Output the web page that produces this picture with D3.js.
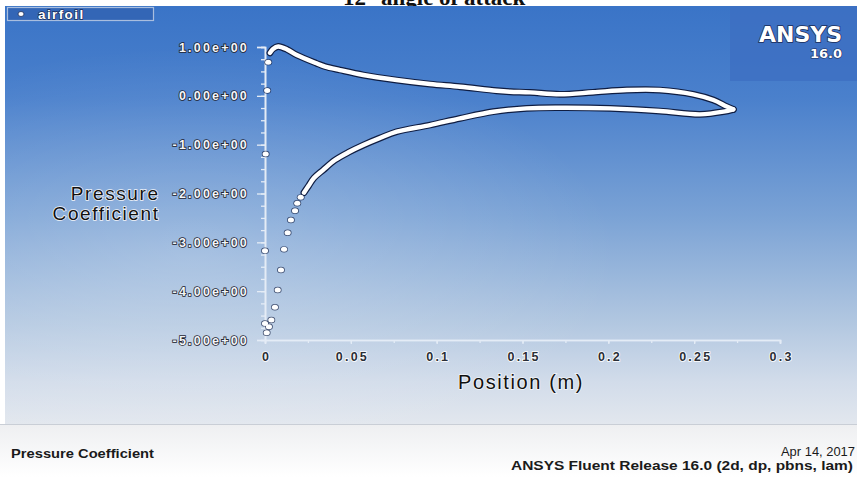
<!DOCTYPE html>
<html>
<head>
<meta charset="utf-8">
<script src="https://cdn.jsdelivr.net/npm/d3@7"></script>
<style>
  html, body { margin: 0; padding: 0; background: #ffffff; }
  svg { display: block; }
</style>
</head>
<body>
<svg id="chart" width="857" height="477"></svg>
<script>
// Pressure coefficient along the airfoil chord, 12° angle of attack.

// Pressure side: continuous run of wall nodes from the stagnation point to the trailing edge
const pressureSideX  = [0.0029, 0.0047, 0.0077, 0.0128, 0.0185, 0.0300, 0.0350, 0.0437, 0.0573, 0.0767, 0.0961, 0.1136, 0.1349, 0.1427, 0.1544, 0.1718, 0.1910, 0.2107, 0.2300, 0.2495, 0.2612, 0.2690, 0.2728];
const pressureSideCp = [0.88,   0.96,   1.01,   0.95,   0.835,  0.666,  0.60,   0.528,  0.426,  0.324,  0.242,  0.186,  0.104,  0.084,  0.070,  0.031,  0.072,  0.119,  0.119,  0.031,  -0.086, -0.220, -0.277];

// Suction side: continuous run of wall nodes aft of the suction peak
const suctionSideX  = [0.0227, 0.0253, 0.0285, 0.0338, 0.0408, 0.0489, 0.0573, 0.0670, 0.0767, 0.0961, 0.1136, 0.1330, 0.1524, 0.1718, 0.2010, 0.2300, 0.2534, 0.2670, 0.2728];
const suctionSideCp = [-1.984, -1.847, -1.683, -1.520, -1.315, -1.151, -1.008, -0.864, -0.735, -0.598, -0.461, -0.325, -0.256, -0.243, -0.256, -0.311, -0.379, -0.325, -0.277];

// Sparse nodes around the leading-edge nose
const noseX  = [0.0019, 0.0013, 0.0004, 0.0000, 0.0000, 0.0010, 0.0023, 0.0037, 0.0058, 0.0074, 0.0093, 0.0111, 0.0132, 0.0151, 0.0175, 0.0188, 0.0208];
const noseCp = [0.69,   0.11,   -1.19,  -3.17,  -4.66,  -4.851, -4.728, -4.590, -4.330, -3.976, -3.567, -3.144, -2.804, -2.544, -2.353, -2.201, -2.079];

// Axis ticks
const xTicks = [0, 0.05, 0.1, 0.15, 0.2, 0.25, 0.3];
const xTickLabels = ["0", "0.05", "0.1", "0.15", "0.2", "0.25", "0.3"];
const yTicks = [1, 0, -1, -2, -3, -4, -5];
const yTickLabels = ["1.00e+00", "0.00e+00", "-1.00e+00", "-2.00e+00", "-3.00e+00", "-4.00e+00", "-5.00e+00"];
const xMinorTicks = d3.range(0, 0.3001, 0.025);
const yMinorTicks = d3.range(-5, 1.001, 0.25);

const seriesName = "airfoil";
const titleText = "12° angle of attack";
const yTitle = ["Pressure", "Coefficient"];
const xTitle = "Position (m)";
const footLeft = "Pressure Coefficient";
const footDate = "Apr 14, 2017";
const footRelease = "ANSYS Fluent Release 16.0 (2d, dp, pbns, lam)";

const svg = d3.select("#chart");
const W = 857, H = 477;

// ---------- gradients ----------
const defs = svg.append("defs");
const bg = defs.append("linearGradient").attr("id", "bg").attr("x1", 0).attr("y1", 0).attr("x2", 0).attr("y2", 1);
[[0, "#3a74c7"], [0.22, "#4a80cc"], [0.5, "#7aa2d5"], [0.75, "#b0c6e0"], [0.9, "#d2dcea"], [1, "#e2e7ee"]]
  .forEach(([o, c]) => bg.append("stop").attr("offset", o).attr("stop-color", c));
const glow = defs.append("radialGradient").attr("id", "glow").attr("cx", 0.22).attr("cy", 0.6).attr("r", 0.5);
glow.append("stop").attr("offset", 0).attr("stop-color", "#ffffff").attr("stop-opacity", 0.22);
glow.append("stop").attr("offset", 1).attr("stop-color", "#ffffff").attr("stop-opacity", 0);
const foot = defs.append("linearGradient").attr("id", "foot").attr("x1", 0).attr("y1", 0).attr("x2", 0).attr("y2", 1);
foot.append("stop").attr("offset", 0).attr("stop-color", "#eeeff1");
foot.append("stop").attr("offset", 1).attr("stop-color", "#ffffff");

// ---------- title (its lower edge peeks above the panel) ----------
svg.append("text")
  .attr("x", 343).attr("y", 5)
  .attr("font-family", "Liberation Serif, Times New Roman, serif")
  .attr("font-weight", "bold").attr("font-size", 23)
  .attr("fill", "#111")
  .text(titleText);

// ---------- panel ----------
const panelTop = 6, panelBottom = 424, panelLeft = 5;
svg.append("rect").attr("x", panelLeft).attr("y", panelTop).attr("width", W - panelLeft).attr("height", panelBottom - panelTop).attr("fill", "url(#bg)");
svg.append("rect").attr("x", panelLeft).attr("y", panelTop).attr("width", W - panelLeft).attr("height", panelBottom - panelTop).attr("fill", "url(#glow)");
svg.append("rect").attr("x", 0).attr("y", panelBottom).attr("width", W).attr("height", H - panelBottom).attr("fill", "url(#foot)");
svg.append("line").attr("x1", 0).attr("x2", W).attr("y1", panelBottom + 0.5).attr("y2", panelBottom + 0.5).attr("stroke", "#c9ced6").attr("stroke-width", 1);

// ANSYS badge
svg.append("rect").attr("x", 730).attr("y", panelTop).attr("width", W - 730).attr("height", 81 - panelTop).attr("fill", "#3d6fc2").attr("opacity", 0.8);
svg.append("text").attr("x", 842).attr("y", 42).attr("text-anchor", "end")
  .attr("font-family", "DejaVu Sans, sans-serif").attr("font-weight", "bold").attr("font-size", 22)
  .attr("fill", "#ffffff").attr("stroke", "#1a2c58").attr("stroke-width", 1.6).attr("paint-order", "stroke")
  .text("ANSYS");
svg.append("text").attr("x", 842).attr("y", 58).attr("text-anchor", "end")
  .attr("font-family", "DejaVu Sans, sans-serif").attr("font-weight", "bold").attr("font-size", 13)
  .attr("fill", "#ffffff").attr("stroke", "#1a2c58").attr("stroke-width", 1.2).attr("paint-order", "stroke")
  .text("16.0");

// legend
const lg = svg.append("g");
lg.append("rect").attr("x", 7.5).attr("y", 7.5).attr("width", 146).attr("height", 13)
  .attr("fill", "#3366b6").attr("stroke", "#a9bedf").attr("stroke-width", 1.2);
lg.append("ellipse").attr("cx", 21).attr("cy", 14).attr("rx", 3).attr("ry", 2.5)
  .attr("fill", "#ffffff").attr("stroke", "#1a2c58").attr("stroke-width", 0.8);
lg.append("text").attr("x", 38).attr("y", 18.5)
  .attr("font-family", "Liberation Sans, Arial, sans-serif").attr("font-weight", "bold")
  .attr("font-size", 13.5).attr("letter-spacing", 1.4)
  .attr("fill", "#ffffff").attr("stroke", "#1a2c58").attr("stroke-width", 1.4).attr("paint-order", "stroke")
  .text(seriesName);

// ---------- scales ----------
const x = d3.scaleLinear().domain([0, 0.3]).range([265, 780]);
const y = d3.scaleLinear().domain([-5, 1]).range([340, 47]);

const axisColor = "#e4ecf6";
const tickFont = 12.5, tickSpacing = 2.2;

// y axis: minor ticks then major ticks with labels
const yMinor = svg.append("g").attr("transform", `translate(${x(0)},0)`)
  .call(d3.axisLeft(y).tickValues(yMinorTicks).tickSize(4).tickFormat(""));
const yAxis = svg.append("g").attr("transform", `translate(${x(0)},0)`)
  .call(d3.axisLeft(y).tickValues(yTicks).tickSize(8).tickPadding(8)
    .tickFormat((d, i) => yTickLabels[i]));
[yMinor, yAxis].forEach(g => {
  g.selectAll("line").attr("stroke", axisColor).attr("stroke-width", 1.3);
  g.select(".domain").attr("stroke", axisColor).attr("stroke-width", 1.6);
});
yAxis.selectAll("text")
  .attr("font-family", "Liberation Sans, Arial, sans-serif").attr("font-weight", "bold")
  .attr("font-size", tickFont).attr("letter-spacing", tickSpacing)
  .attr("fill", "#f4f6fa").attr("stroke", "#1f2430").attr("stroke-width", 1.6).attr("paint-order", "stroke");

// x axis
const xMinor = svg.append("g").attr("transform", `translate(0,${y(-5)})`)
  .call(d3.axisBottom(x).tickValues(xMinorTicks).tickSize(3).tickFormat(""));
const xAxis = svg.append("g").attr("transform", `translate(0,${y(-5)})`)
  .call(d3.axisBottom(x).tickValues(xTicks).tickSize(4).tickPadding(8)
    .tickFormat((d, i) => xTickLabels[i]));
[xMinor, xAxis].forEach(g => {
  g.selectAll("line").attr("stroke", axisColor).attr("stroke-width", 1.3);
  g.select(".domain").attr("stroke", axisColor).attr("stroke-width", 1.6);
});
xAxis.selectAll("text")
  .attr("font-family", "Liberation Sans, Arial, sans-serif").attr("font-weight", "bold")
  .attr("font-size", tickFont).attr("letter-spacing", tickSpacing).attr("dx", tickSpacing / 2)
  .attr("fill", "#2a2e36").attr("stroke", "#ffffff").attr("stroke-width", 1.6).attr("paint-order", "stroke");

// axis titles
const titleStyle = sel => sel
  .attr("font-family", "Liberation Sans, Arial, sans-serif").attr("font-size", 19)
  .attr("fill", "#101010").attr("stroke", "#f2f4f8").attr("stroke-width", 1.6).attr("paint-order", "stroke");
yTitle.forEach((t, i) => {
  svg.append("text").attr("x", 158 + 1.6).attr("y", 200 + i * 20).attr("text-anchor", "end")
    .attr("letter-spacing", 1.6).call(titleStyle).text(t);
});
svg.append("text").attr("x", 521).attr("y", 389).attr("text-anchor", "middle")
  .attr("font-size", 20).attr("letter-spacing", 1.6).call(titleStyle).attr("font-size", 20).text(xTitle);

// ---------- data marks ----------
const pressureSide = pressureSideX.map((v, i) => [v, pressureSideCp[i]]);
const suctionSide = suctionSideX.map((v, i) => [v, suctionSideCp[i]]);
const nose = noseX.map((v, i) => [v, noseCp[i]]);

const line = d3.line().x(d => x(d[0])).y(d => y(d[1])).curve(d3.curveCatmullRom.alpha(0.5));
const marks = svg.append("g");
const outline = "#0f1d42";

// dark rims first, white cores on top so the two surfaces merge cleanly at the trailing edge
[pressureSide, suctionSide].forEach(s => marks.append("path").attr("d", line(s))
  .attr("fill", "none").attr("stroke", outline).attr("stroke-width", 6.8)
  .attr("stroke-linecap", "round").attr("stroke-linejoin", "round"));
marks.selectAll(".noseRim").data(nose).join("ellipse").attr("class", "noseRim")
  .attr("cx", d => x(d[0])).attr("cy", d => y(d[1])).attr("rx", 3.9).attr("ry", 3.2)
  .attr("fill", outline).attr("opacity", 0.7);
[pressureSide, suctionSide].forEach(s => marks.append("path").attr("d", line(s))
  .attr("fill", "none").attr("stroke", "#ffffff").attr("stroke-width", 4.4)
  .attr("stroke-linecap", "round").attr("stroke-linejoin", "round"));
marks.selectAll(".noseDot").data(nose).join("ellipse").attr("class", "noseDot")
  .attr("cx", d => x(d[0])).attr("cy", d => y(d[1])).attr("rx", 3.1).attr("ry", 2.5)
  .attr("fill", "#ffffff");

// ---------- footer ----------
const footStyle = sel => sel
  .attr("font-family", "Liberation Sans, Arial, sans-serif").attr("font-weight", "bold")
  .attr("font-size", 12.5).attr("fill", "#1a1a1a");
svg.append("text").attr("x", 11).attr("y", 458).call(footStyle).text(footLeft)
  .attr("textLength", 143).attr("lengthAdjust", "spacingAndGlyphs");
svg.append("text").attr("x", 855).attr("y", 456).attr("text-anchor", "end").call(footStyle)
  .attr("font-weight", "normal").text(footDate)
  .attr("textLength", 74).attr("lengthAdjust", "spacingAndGlyphs");
svg.append("text").attr("x", 853).attr("y", 470).attr("text-anchor", "end").call(footStyle)
  .text(footRelease)
  .attr("textLength", 342).attr("lengthAdjust", "spacingAndGlyphs");
</script>
</body>
</html>
